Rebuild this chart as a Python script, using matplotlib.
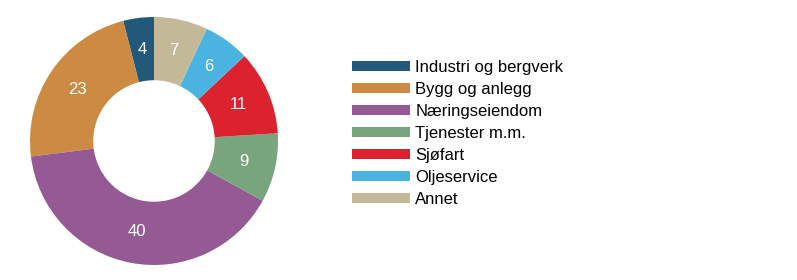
import matplotlib
matplotlib.use("Agg")
import matplotlib.pyplot as plt

categories = ["Industri og bergverk", "Bygg og anlegg", "Næringseiendom",
              "Tjenester m.m.", "Sjøfart", "Oljeservice", "Annet"]
values = [4, 23, 40, 9, 11, 6, 7]
colors = ["#22597a", "#cc8a42", "#955994", "#79a57e", "#dc212f", "#4ab3e0", "#c3b898"]

plt.rcParams['font.family'] = ['Liberation Sans', 'DejaVu Sans']

W, H = 797, 280
fig = plt.figure(figsize=(W / 100, H / 100), dpi=100)

cx, cy, R = 154, 141, 124
ax = fig.add_axes([(cx - R) / W, (H - cy - R) / H, 2 * R / W, 2 * R / H])
wedges, texts = ax.pie(values, colors=colors, startangle=90, counterclock=True,
                       labels=[str(v) for v in values], labeldistance=0.745,
                       radius=1, wedgeprops=dict(width=0.51, linewidth=0),
                       textprops=dict(color="white", fontsize=12, ha="center", va="center"))
ax.set_xlim(-1, 1)
ax.set_ylim(-1, 1)
ax.set_aspect("equal")
ax.axis("off")

fig.legend(wedges, categories, loc="upper left",
           bbox_to_anchor=(352 / W, (H - 60) / H), frameon=False,
           fontsize=12, handlelength=3.5, handleheight=0.55, handletextpad=0.3,
           labelspacing=0.42, borderpad=0, borderaxespad=0)

fig.savefig("out.png", dpi=100)
